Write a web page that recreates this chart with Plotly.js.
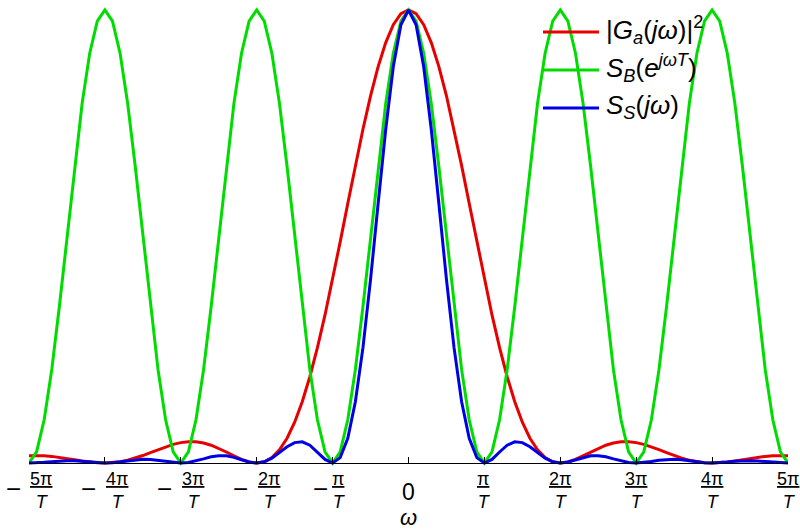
<!DOCTYPE html>
<html>
<head>
<meta charset="utf-8">
<script src="https://cdn.plot.ly/plotly-3.0.1.min.js"></script>
<style>html,body{margin:0;padding:0;background:#fff;}#chart{width:800px;height:532px;}</style>
</head>
<body>
<div id="chart"></div>
<script>
// omega in units of pi/T
const omega = [-5,-4.9,-4.8,-4.7,-4.6,-4.5,-4.4,-4.3,-4.2,-4.1,-4,-3.9,-3.8,-3.7,-3.6,-3.5,-3.4,-3.3,-3.2,-3.1,-3,-2.9,-2.8,-2.7,-2.6,-2.5,-2.4,-2.3,-2.2,-2.1,-2,-1.9,-1.8,-1.7,-1.6,-1.5,-1.4,-1.3,-1.2,-1.1,-1,-0.9,-0.8,-0.7,-0.6,-0.5,-0.4,-0.3,-0.2,-0.1,0,0.1,0.2,0.3,0.4,0.5,0.6,0.7,0.8,0.9,1,1.1,1.2,1.3,1.4,1.5,1.6,1.7,1.8,1.9,2,2.1,2.2,2.3,2.4,2.5,2.6,2.7,2.8,2.9,3,3.1,3.2,3.3,3.4,3.5,3.6,3.7,3.8,3.9,4,4.1,4.2,4.3,4.4,4.5,4.6,4.7,4.8,4.9,5];

const gaSquared = [0.0162,0.0165,0.0159,0.0146,0.0125,0.0100,0.0072,0.0045,0.0022,0.0006,0,0.0007,0.0027,0.0061,0.0108,0.0165,0.0230,0.0296,0.0358,0.0411,0.0450,0.0470,0.0468,0.0441,0.0392,0.0324,0.0243,0.0158,0.0080,0.0023,0,0.0028,0.0119,0.0289,0.0547,0.0901,0.1353,0.1904,0.2546,0.3268,0.4053,0.4881,0.5728,0.6566,0.7368,0.8106,0.8751,0.9281,0.9675,0.9918,
1,
0.9918,0.9675,0.9281,0.8751,0.8106,0.7368,0.6566,0.5728,0.4881,0.4053,0.3268,0.2546,0.1904,0.1353,0.0901,0.0547,0.0289,0.0119,0.0028,0,0.0023,0.0080,0.0158,0.0243,0.0324,0.0392,0.0441,0.0468,0.0470,0.0450,0.0411,0.0358,0.0296,0.0230,0.0165,0.0108,0.0061,0.0027,0.0007,0,0.0006,0.0022,0.0045,0.0072,0.0100,0.0125,0.0146,0.0159,0.0165,0.0162];

const sB = [0,0.0245,0.0955,0.2061,0.3455,0.5,0.6545,0.7939,0.9045,0.9755,1,0.9755,0.9045,0.7939,0.6545,0.5,0.3455,0.2061,0.0955,0.0245,
0,0.0245,0.0955,0.2061,0.3455,0.5,0.6545,0.7939,0.9045,0.9755,1,0.9755,0.9045,0.7939,0.6545,0.5,0.3455,0.2061,0.0955,0.0245,
0,0.0245,0.0955,0.2061,0.3455,0.5,0.6545,0.7939,0.9045,0.9755,1,0.9755,0.9045,0.7939,0.6545,0.5,0.3455,0.2061,0.0955,0.0245,
0,0.0245,0.0955,0.2061,0.3455,0.5,0.6545,0.7939,0.9045,0.9755,1,0.9755,0.9045,0.7939,0.6545,0.5,0.3455,0.2061,0.0955,0.0245,
0,0.0245,0.0955,0.2061,0.3455,0.5,0.6545,0.7939,0.9045,0.9755,1,0.9755,0.9045,0.7939,0.6545,0.5,0.3455,0.2061,0.0955,0.0245,
0];

const sS = [0,0.0004,0.0015,0.0030,0.0043,0.0050,0.0047,0.0036,0.0020,0.0006,0,0.0006,0.0024,0.0048,0.0071,0.0083,0.0079,0.0061,0.0034,0.0010,0,0.0012,0.0045,0.0091,0.0136,0.0162,0.0159,0.0125,0.0072,0.0022,0,0.0027,0.0108,0.0230,0.0358,0.0450,0.0468,0.0392,0.0243,0.0080,0,0.0119,0.0547,0.1353,0.2546,0.4053,0.5728,0.7368,0.8751,0.9675,
1,
0.9675,0.8751,0.7368,0.5728,0.4053,0.2546,0.1353,0.0547,0.0119,0,0.0080,0.0243,0.0392,0.0468,0.0450,0.0358,0.0230,0.0108,0.0027,0,0.0022,0.0072,0.0125,0.0159,0.0162,0.0136,0.0091,0.0045,0.0012,0,0.0010,0.0034,0.0061,0.0079,0.0083,0.0071,0.0048,0.0024,0.0006,0,0.0006,0.0020,0.0036,0.0047,0.0050,0.0043,0.0030,0.0015,0.0004,0];

const tickVals = [-5,-4,-3,-2,-1,0,1,2,3,4,5];
const tickSigns = ["−","−","−","−","−","","","","","",""];
const tickNums = ["5π","4π","3π","2π","π","0","π","2π","3π","4π","5π"];
const tickDen = "T";
const axisLabel = "ω";
const seriesNames = [
  "|<i>G<sub>a</sub></i>(<i>jω</i>)|<sup>2</sup>",
  "<i>S<sub>B</sub></i>(<i>e<sup>jωT</sup></i>)",
  "<i>S<sub>S</sub></i>(<i>jω</i>)"
];
const seriesColors = ["#e60000", "#00dc00", "#0000e6"];

const FONT = '"Liberation Sans", Arial, Helvetica, sans-serif';
// plot area in pixels
const PL = 29, PR = 788, PT = 5, PB = 466;
const W = 800, H = 532;
const yPerUnit = 453; // pixels per unit value
const yMin = -(PB - 463) / yPerUnit;
const yMax = (463 - PT) / yPerUnit;
const px2paperX = p => (p - PL) / (PR - PL);
const px2paperY = p => (PB - p) / (PB - PT);

const ys = [gaSquared, sB, sS];
const traces = ys.map((y, i) => ({
  x: omega, y: y, type: 'scatter', mode: 'lines',
  line: {color: seriesColors[i], width: 3},
  name: seriesNames[i], showlegend: false, hoverinfo: 'skip'
}));

const annotations = [];
const shapes = [];
tickVals.forEach((v, i) => {
  if (v === 0) {
    annotations.push({x: v, xref: 'x', y: px2paperY(492), yref: 'paper',
      text: tickNums[i], showarrow: false, xanchor: 'center', yanchor: 'middle',
      font: {family: FONT, size: 23, color: '#000'}});
    return;
  }
  const wide = tickNums[i].length > 1;
  const fracShift = tickSigns[i] ? (wide ? 12 : 6) : 0;
  annotations.push({x: v, xref: 'x', y: px2paperY(490), yref: 'paper',
    text: '<u>' + tickNums[i] + '</u><br><i>' + tickDen + '</i>', showarrow: false,
    xanchor: 'center', yanchor: 'middle', xshift: fracShift,
    font: {family: FONT, size: 18, color: '#000'}});
  if (tickSigns[i]) {
    annotations.push({x: v, xref: 'x', y: px2paperY(489), yref: 'paper',
      text: tickSigns[i], showarrow: false, xanchor: 'center', yanchor: 'middle',
      xshift: wide ? -16 : -12,
      font: {family: FONT, size: 26, color: '#000'}});
  }
});
annotations.push({x: 0, xref: 'x', y: px2paperY(532), yref: 'paper',
  text: '<i>' + axisLabel + '</i>', showarrow: false, xanchor: 'center', yanchor: 'bottom',
  font: {family: FONT, size: 22, color: '#000'}});

// legend drawn by hand
const legY = [32, 70, 108];
seriesNames.forEach((nm, i) => {
  shapes.push({type: 'line', xref: 'paper', yref: 'paper',
    x0: px2paperX(543), x1: px2paperX(599), y0: px2paperY(legY[i]), y1: px2paperY(legY[i]),
    line: {color: seriesColors[i], width: 3}});
  annotations.push({x: px2paperX(604), xref: 'paper', y: px2paperY(legY[i] - 2), yref: 'paper',
    text: nm, showarrow: false, xanchor: 'left', yanchor: 'middle',
    font: {family: FONT, size: 26, color: '#000'}});
});

const layout = {
  width: W, height: H,
  margin: {l: PL, r: W - PR, t: PT, b: H - PB, pad: 0},
  paper_bgcolor: '#fff', plot_bgcolor: '#fff',
  xaxis: {range: [-5, 5], tickvals: tickVals, showticklabels: false,
    ticks: 'inside', ticklen: 6, tickwidth: 1, tickcolor: '#000',
    showline: true, linecolor: '#000', linewidth: 1,
    showgrid: false, zeroline: false, anchor: 'free', position: (PB - 463) / (PB - PT)},
  yaxis: {range: [yMin, yMax], visible: false, showgrid: false, zeroline: false},
  showlegend: false,
  annotations: annotations, shapes: shapes
};

Plotly.newPlot('chart', traces, layout, {staticPlot: true, displayModeBar: false});
</script>
</body>
</html>
